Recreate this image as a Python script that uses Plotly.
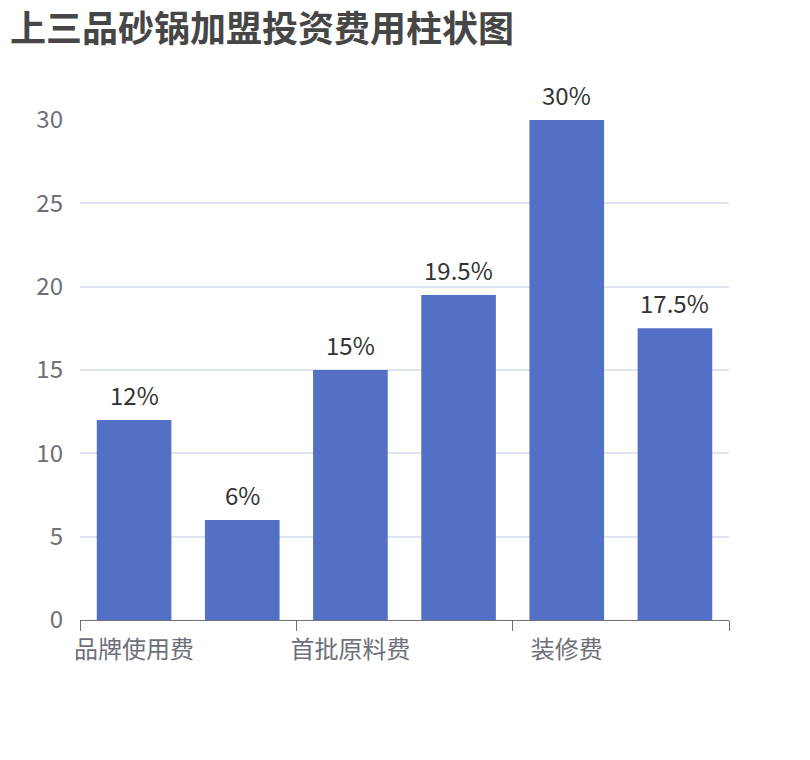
import plotly.graph_objects as go

# 上三品砂锅加盟投资费用 (share of total, %)
categories = ["品牌使用费", "加盟保证金", "首批原料费", "设备费用", "装修费", "其他费用"]
values = [12, 6, 15, 19.5, 30, 17.5]
value_labels = ["12%", "6%", "15%", "19.5%", "30%", "17.5%"]
shown_labels = ["品牌使用费", "首批原料费", "装修费"]
y_ticks = [0, 5, 10, 15, 20, 25, 30]

FONT = "Noto Sans CJK SC, Noto Sans, sans-serif"
AXIS_GREY = "#6E7079"

fig = go.Figure()

fig.add_trace(go.Bar(
    x=categories,
    y=values,
    marker=dict(color="#5470C6", line=dict(width=0)),
    hoverinfo="x+y",
))

# invisible helper trace so the boundary-tick axis gets drawn
fig.add_trace(go.Scatter(
    x=[-0.5, len(categories) - 0.5],
    y=[0, 0],
    xaxis="x2",
    mode="markers",
    marker=dict(opacity=0),
    hoverinfo="skip",
    showlegend=False,
))

# value labels above the bars, a bit further up than textposition="outside"
for cat, val, lab in zip(categories, values, value_labels):
    fig.add_annotation(
        x=cat, y=val, text=lab,
        showarrow=False, yanchor="bottom", yshift=6,
        font=dict(size=24, color="#333333", family=FONT),
    )

fig.update_layout(
    width=810,
    height=760,
    paper_bgcolor="white",
    plot_bgcolor="white",
    showlegend=False,
    bargap=0.31,
    margin=dict(l=72, r=89, t=112, b=148),
    font=dict(family=FONT, color=AXIS_GREY),
    title=dict(
        text="<b>上三品砂锅加盟投资费用柱状图</b>",
        x=2 / 810,
        xref="container",
        xanchor="left",
        y=1 - 21 / 760,
        yref="container",
        yanchor="middle",
        font=dict(size=36, color="#464646", family=FONT),
    ),
    xaxis=dict(
        type="category",
        tickvals=shown_labels,
        ticktext=shown_labels,
        ticks="",
        showline=True,
        linecolor=AXIS_GREY,
        linewidth=1,
        showgrid=False,
        ticklabelstandoff=8,
        tickfont=dict(size=24, color=AXIS_GREY),
        fixedrange=True,
    ),
    xaxis2=dict(
        overlaying="x",
        anchor="y",
        side="bottom",
        range=[-0.5, len(categories) - 0.5],
        tickvals=[-0.5, 1.5, 3.5, 5.5],
        ticks="outside",
        ticklen=10,
        tickcolor=AXIS_GREY,
        showticklabels=False,
        showline=False,
        showgrid=False,
        zeroline=False,
    ),
    yaxis=dict(
        range=[0, 30],
        tickvals=y_ticks,
        showgrid=True,
        gridcolor="#E0E6F1",
        gridwidth=1.5,
        zeroline=False,
        showline=False,
        ticks="",
        ticklabelstandoff=16,
        tickfont=dict(size=24, color=AXIS_GREY),
    ),
)

fig.write_html("out.html")
